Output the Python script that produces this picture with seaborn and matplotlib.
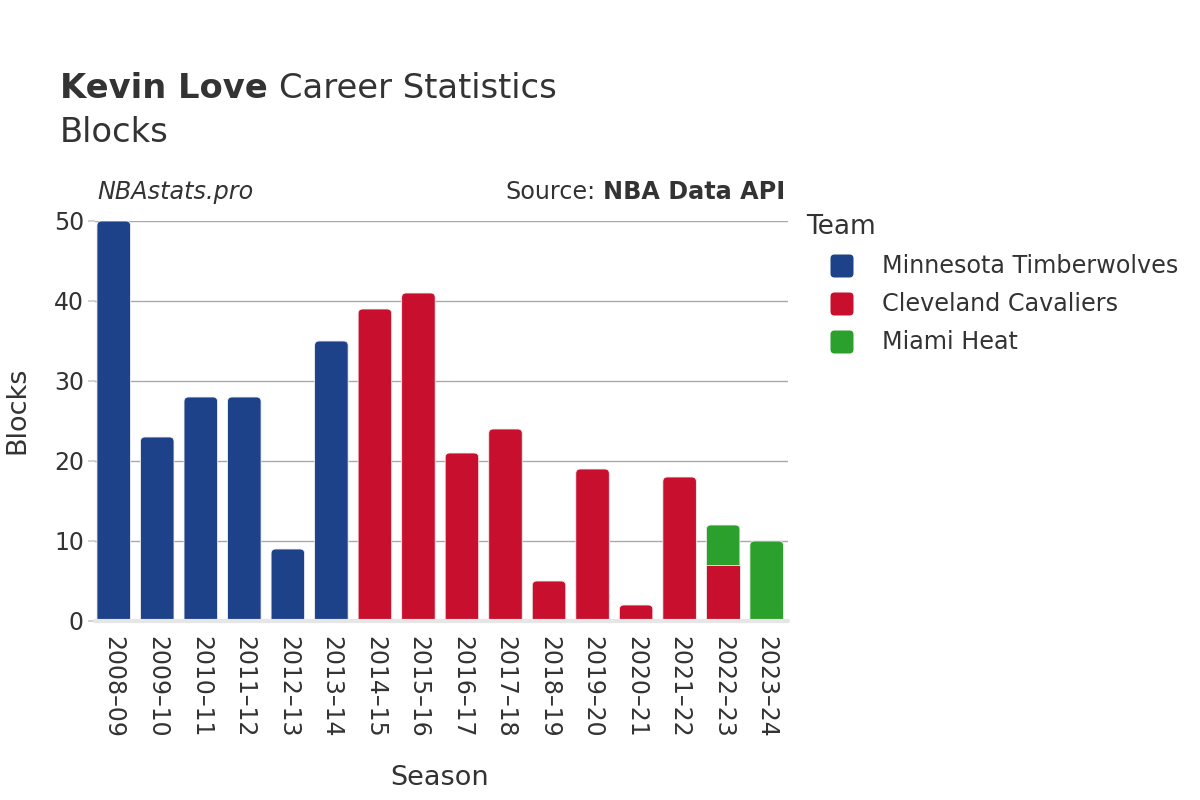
import numpy as np
import pandas as pd
import matplotlib
matplotlib.use('Agg')
import matplotlib.pyplot as plt
import seaborn as sns
from matplotlib.patches import FancyBboxPatch, Rectangle
from matplotlib.transforms import IdentityTransform

# ---- data ----
seasons = ['2008–09', '2009–10', '2010–11', '2011–12', '2012–13', '2013–14', '2014–15', '2015–16',
           '2016–17', '2017–18', '2018–19', '2019–20', '2020–21', '2021–22', '2022–23', '2023–24']
teams = ['Minnesota Timberwolves', 'Cleveland Cavaliers', 'Miami Heat']
min_blocks = [50, 23, 28, 28, 9, 35, 0, 0, 0, 0, 0, 0, 0, 0, 0, 0]
cle_blocks = [0, 0, 0, 0, 0, 0, 39, 41, 21, 24, 5, 19, 2, 18, 7, 0]
mia_blocks = [0, 0, 0, 0, 0, 0, 0, 0, 0, 0, 0, 0, 0, 0, 5, 10]
team_colors = ['#1d428a', '#c8102e', '#2ca02c']
yticks = [0, 10, 20, 30, 40, 50]

TEXT = '#333333'

vals = np.array([min_blocks, cle_blocks, mia_blocks], dtype=float)
cum = np.cumsum(vals, axis=0)
totals = cum[-1]

rows = []
for ti, team in enumerate(teams):
    for si, s in enumerate(seasons):
        if vals[ti, si] > 0:
            rows.append({'Season': s, 'Team': team, 'cum': cum[ti, si]})
df = pd.DataFrame(rows)
palette = dict(zip(teams, team_colors))

sns.set_theme(style='white')
plt.rcParams['font.family'] = ['DejaVu Sans']

fig = plt.figure(figsize=(12, 8), dpi=100)
ax = fig.add_axes([95 / 1200, 179 / 800, 693 / 1200, 400 / 800])

sns.barplot(data=df, x='Season', y='cum', hue='Team', hue_order=teams[::-1], order=seasons,
            palette=palette, dodge=False, legend=False, width=0.77, saturation=1, ax=ax)

ax.set_xlim(-0.43, len(seasons) - 0.51)
ax.set_ylim(0, 50)

# rounded tops
px_x = ax.transData.transform((1, 0))[0] - ax.transData.transform((0, 0))[0]
px_y = ax.transData.transform((0, 1))[1] - ax.transData.transform((0, 0))[1]
r_px = 4.5
r = r_px / px_x
aspect = px_x / px_y
patches = list(ax.patches)
for p in patches:
    x, y, w, h = p.get_x(), p.get_y(), p.get_width(), p.get_height()
    fc = p.get_facecolor()
    p.remove()
    if h <= 0 or np.isnan(h):
        continue
    idx = int(round(x + w / 2))
    if abs(h - totals[idx]) < 1e-6:
        new = FancyBboxPatch((x, y - r * aspect), w, h + r * aspect,
                             boxstyle=f'round,pad=0,rounding_size={r}', mutation_aspect=aspect,
                             fc=fc, ec='#f0f0f0', lw=0.6, zorder=2)
    else:
        new = Rectangle((x, y), w, h, fc=fc, ec='#f0f0f0', lw=0.6, zorder=2)
    ax.add_patch(new)

ax.set_yticks(yticks)
ax.yaxis.grid(True, color='#a9a9a9', lw=1)
ax.xaxis.grid(False)
ax.set_axisbelow(True)
for sp in ax.spines.values():
    sp.set_visible(False)
ax.axhline(0, color='#e6e6e6', lw=3, zorder=3, clip_on=False)
ax.tick_params(axis='y', left=True, length=5, color='#cccccc', pad=3, labelsize=17, labelcolor=TEXT)
ax.tick_params(axis='x', bottom=False, length=0, pad=11, labelsize=17, labelcolor=TEXT)
for lab in ax.get_xticklabels():
    lab.set_rotation(-90)
ax.set_xlabel('')
ax.set_ylabel('')

fig.text(440 / 1200, 1 - 778 / 800, 'Season', ha='center', va='center', fontsize=19.5, color=TEXT)
fig.text(17 / 1200, 1 - 410 / 800, 'Blocks', ha='center', va='center', rotation=90, fontsize=19.5, color=TEXT)

# titles
renderer = fig.canvas.get_renderer()
t1 = fig.text(60 / 1200, 1 - 88 / 800, 'Kevin Love', ha='left', va='center', fontsize=24.3,
              fontweight='bold', color=TEXT)
bb = t1.get_window_extent(renderer)
fig.text((bb.x1 + 11) / 1200, 1 - 88 / 800, 'Career Statistics', ha='left', va='center', fontsize=24.3,
         color=TEXT)
fig.text(60 / 1200, 1 - 132 / 800, 'Blocks', ha='left', va='center', fontsize=24.3, color=TEXT)

fig.text(97 / 1200, 1 - 192 / 800, 'NBAstats.pro', ha='left', va='center', fontsize=17.2,
         style='italic', color=TEXT)
t2 = fig.text(785 / 1200, 1 - 192 / 800, 'NBA Data API', ha='right', va='center', fontsize=17.2,
              fontweight='bold', color=TEXT)
bb2 = t2.get_window_extent(renderer)
fig.text((bb2.x0 - 7) / 1200, 1 - 192 / 800, 'Source:', ha='right', va='center', fontsize=17.2,
         color=TEXT)

# legend
fig.text(806 / 1200, 1 - 227 / 800, 'Team', ha='left', va='center', fontsize=19, color=TEXT)
for i, (team, col) in enumerate(zip(teams, team_colors)):
    yc = 266 + 38 * i
    box = FancyBboxPatch((842 - 11.5, 800 - yc - 11.5), 23, 23, boxstyle='round,pad=0,rounding_size=4',
                         fc=col, ec='none', transform=IdentityTransform())
    fig.add_artist(box)
    fig.text(882 / 1200, 1 - yc / 800, team, ha='left', va='center', fontsize=17.2, color=TEXT)

fig.savefig('out.png', dpi=100)
